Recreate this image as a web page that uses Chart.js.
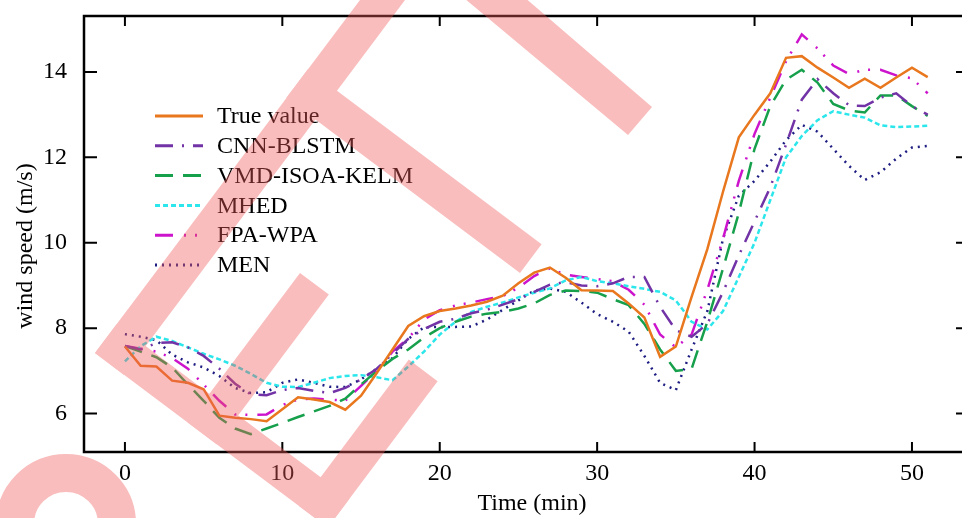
<!DOCTYPE html>
<html>
<head>
<meta charset="utf-8">
<script src="https://cdn.jsdelivr.net/npm/chart.js@4.4.0/dist/chart.umd.min.js"></script>
<style>
  html, body { margin: 0; padding: 0; background: #fff; overflow: hidden; }
  #wrap { position: absolute; left: 0; top: 0; width: 972px; height: 518px; }
</style>
</head>
<body>
<div id="wrap"><canvas id="myChart"></canvas></div>
<script>
// time axis (min)
const minutes = [0, 1, 2, 3, 4, 5, 6, 7, 8, 9, 10, 11, 12, 13, 14, 15, 16, 17, 18, 19, 20, 21, 22, 23, 24, 25,
  26, 27, 28, 29, 30, 31, 32, 33, 34, 35, 36, 37, 38, 39, 40, 41, 42, 43, 44, 45, 46, 47, 48, 49, 50, 51];

const trueValue = [7.57, 7.12, 7.10, 6.77, 6.72, 6.57, 5.95, 5.90, 5.87, 5.82, 6.10, 6.38, 6.33, 6.27, 6.09, 6.42,
  6.95, 7.50, 8.05, 8.28, 8.40, 8.46, 8.53, 8.62, 8.76, 9.05, 9.30, 9.42, 9.18, 8.89, 8.88, 8.87, 8.58, 8.25,
  7.33, 7.57, 8.73, 9.85, 11.20, 12.47, 13.00, 13.50, 14.33, 14.37, 14.10, 13.87, 13.63, 13.84, 13.63, 13.87, 14.10, 13.88];

const cnnBlstm = [7.58, 7.50, 7.65, 7.67, 7.55, 7.35, 7.05, 6.70, 6.45, 6.43, 6.55, 6.60, 6.53, 6.48, 6.60, 6.80,
  7.05, 7.40, 7.75, 7.98, 8.15, 8.22, 8.35, 8.43, 8.55, 8.68, 8.85, 9.02, 9.08, 9.00, 8.98, 9.05, 9.20, 9.20,
  8.50, 7.95, 7.80, 8.10, 8.85, 9.70, 10.50, 11.30, 12.30, 13.35, 13.83, 13.50, 13.22, 13.20, 13.40, 13.50, 13.20, 13.00];

const vmdIsoaKelm = [7.58, 7.45, 7.32, 7.08, 6.68, 6.30, 5.90, 5.65, 5.52, 5.65, 5.78, 5.92, 6.05, 6.18, 6.35, 6.68,
  7.00, 7.28, 7.50, 7.78, 8.00, 8.15, 8.27, 8.34, 8.38, 8.46, 8.58, 8.78, 8.88, 8.87, 8.83, 8.68, 8.54, 8.10,
  7.50, 7.00, 7.05, 8.15, 9.40, 10.70, 12.20, 13.20, 13.82, 14.05, 13.75, 13.25, 13.10, 13.05, 13.45, 13.45, 13.20, 12.97];

const mhed = [7.22, 7.58, 7.80, 7.70, 7.55, 7.40, 7.27, 7.12, 6.93, 6.72, 6.63, 6.62, 6.72, 6.83, 6.88, 6.90,
  6.85, 6.78, 7.10, 7.45, 7.85, 8.15, 8.38, 8.50, 8.60, 8.72, 8.83, 8.93, 9.12, 9.20, 9.10, 9.05, 8.98, 8.92,
  8.85, 8.65, 8.15, 7.97, 8.40, 9.20, 10.00, 11.00, 12.00, 12.50, 12.87, 13.08, 13.00, 12.93, 12.75, 12.71, 12.72, 12.74];

const fpaWpa = [7.58, 7.52, 7.45, 7.30, 7.05, 6.68, 6.30, 5.98, 5.97, 5.98, 6.20, 6.33, 6.35, 6.33, 6.30, 6.65,
  7.00, 7.45, 7.76, 8.20, 8.42, 8.53, 8.60, 8.68, 8.75, 8.95, 9.22, 9.40, 9.25, 9.20, 9.15, 9.10, 8.90, 8.55,
  7.85, 7.55, 7.85, 8.90, 10.10, 11.45, 12.55, 13.40, 14.25, 14.88, 14.55, 14.15, 13.95, 14.05, 14.05, 13.92, 13.85, 13.50];

const men = [7.86, 7.80, 7.72, 7.38, 7.20, 7.08, 6.88, 6.60, 6.48, 6.50, 6.72, 6.80, 6.72, 6.63, 6.62, 6.80,
  7.05, 7.30, 7.75, 8.02, 8.03, 8.03, 8.04, 8.20, 8.43, 8.65, 8.88, 8.93, 8.85, 8.60, 8.33, 8.15, 7.92, 7.35,
  6.72, 6.55, 7.50, 8.40, 10.10, 11.10, 11.45, 11.90, 12.40, 12.76, 12.60, 12.20, 11.80, 11.47, 11.65, 11.97, 12.23, 12.27];

const xTicks = [0, 10, 20, 30, 40, 50];
const yTicks = [6, 8, 10, 12, 14];

Chart.defaults.font.family = "'Liberation Serif', 'Times New Roman', serif";
Chart.defaults.font.size = 24;
Chart.defaults.color = "#000";

function series(label, values, color, dash) {
  return {
    label: label,
    data: minutes.map((t, i) => ({ x: t, y: values[i] })),
    borderColor: color,
    borderWidth: 2.5,
    borderDash: dash,
    pointRadius: 0,
    tension: 0,
    fill: false
  };
}

function noEdgePadding(scale) {
  scale.paddingTop = 0;
  scale.paddingBottom = 0;
  scale.paddingLeft = 0;
  scale.paddingRight = 0;
}

// frame with inward ticks, like the original plot
const frameTicks = {
  id: "frameTicks",
  afterDatasetsDraw(chart) {
    const { ctx, chartArea: a, scales: { x, y } } = chart;
    ctx.save();
    ctx.strokeStyle = "#000";
    ctx.lineWidth = 2.5;
    ctx.strokeRect(a.left, a.top, a.right - a.left, a.bottom - a.top);
    ctx.lineWidth = 2;
    ctx.beginPath();
    xTicks.forEach(v => {
      const px = x.getPixelForValue(v);
      ctx.moveTo(px, a.bottom); ctx.lineTo(px, a.bottom - 10);
      ctx.moveTo(px, a.top); ctx.lineTo(px, a.top + 10);
    });
    yTicks.forEach(v => {
      const py = y.getPixelForValue(v);
      ctx.moveTo(a.left, py); ctx.lineTo(a.left + 13, py);
      ctx.moveTo(a.right, py); ctx.lineTo(a.right - 12, py);
    });
    ctx.stroke();
    ctx.restore();
  }
};

const insideLegend = {
  id: "insideLegend",
  afterDatasetsDraw(chart) {
    const ctx = chart.ctx;
    ctx.save();
    ctx.font = "24px 'Liberation Serif'";
    ctx.textBaseline = "middle";
    chart.data.datasets.forEach((ds, i) => {
      const yy = 116 + i * 29.8;
      ctx.strokeStyle = ds.borderColor;
      ctx.lineWidth = 3;
      ctx.setLineDash(ds.borderDash);
      ctx.beginPath();
      ctx.moveTo(155, yy);
      ctx.lineTo(203, yy);
      ctx.stroke();
      ctx.setLineDash([]);
      ctx.fillStyle = "#000";
      ctx.fillText(ds.label, 217, yy + 1);
    });
    ctx.restore();
  }
};

// pink stamp over the whole picture
const stamp = {
  id: "stamp",
  afterDraw(chart) {
    const { ctx, width, height } = chart;
    const off = document.createElement("canvas");
    off.width = width;
    off.height = height;
    const o = off.getContext("2d");
    o.fillStyle = "rgb(240,90,90)";
    o.strokeStyle = "rgb(240,90,90)";
    const bands = [
      [[95, 353], [375, -20], [420, -20], [124, 375]],
      [[95, 353], [116.6, 324.2], [349.4, 498.8], [327.8, 527.6]],
      [[187.8, 422.6], [300, 273], [328.8, 294.6], [216.6, 444.2]],
      [[299, 506], [408.8, 359.6], [437.6, 381.2], [327.8, 527.6]],
      [[286.4, 97.8], [308, 69], [541.6, 244.2], [520, 273]],
      [[440, -22], [502, -22], [652, 107], [628, 135]]
    ];
    bands.forEach(b => {
      o.beginPath();
      o.moveTo(b[0][0], b[0][1]);
      for (let i = 1; i < b.length; i++) o.lineTo(b[i][0], b[i][1]);
      o.closePath();
      o.fill();
    });
    o.lineWidth = 38;
    o.beginPath();
    o.arc(66, 524, 51, 0, Math.PI * 2);
    o.stroke();
    ctx.save();
    ctx.globalAlpha = 0.4;
    ctx.drawImage(off, 0, 0, width, height);
    ctx.restore();
  }
};

const ctx = document.getElementById("myChart").getContext("2d");
new Chart(ctx, {
  type: "line",
  data: {
    datasets: [
      series("True value", trueValue, "#E8771E", []),
      series("CNN-BLSTM", cnnBlstm, "#7233A6", [18, 9, 2, 9]),
      series("VMD-ISOA-KELM", vmdIsoaKelm, "#17A04C", [18, 10]),
      series("MHED", mhed, "#2BE6EA", [5, 3]),
      series("FPA-WPA", fpaWpa, "#CC14CC", [18, 11, 2, 9, 2, 10]),
      series("MEN", men, "#1E1E82", [2, 5])
    ]
  },
  options: {
    responsive: true,
    maintainAspectRatio: false,
    animation: false,
    layout: { padding: { top: 16, right: 4, left: 0, bottom: 0 } },
    plugins: {
      legend: { display: false },
      tooltip: { enabled: false }
    },
    scales: {
      x: {
        type: "linear",
        min: -2.6,
        max: 53.56,
        grid: { display: false, drawTicks: false },
        border: { display: false },
        afterBuildTicks: scale => { scale.ticks = xTicks.map(v => ({ value: v })); },
        afterFit: scale => { scale.height = 66; noEdgePadding(scale); },
        ticks: { padding: 7, maxRotation: 0 },
        title: { display: true, text: "\u2002Time (min)", padding: { top: 0, bottom: 0 } }
      },
      y: {
        type: "linear",
        min: 5.1,
        max: 15.31,
        grid: { display: false, drawTicks: false },
        border: { display: false },
        afterBuildTicks: scale => { scale.ticks = yTicks.map(v => ({ value: v })); },
        afterFit: scale => { scale.width = 84; noEdgePadding(scale); },
        ticks: { padding: 17 },
        title: { display: true, text: "wind speed (m/s)\u2002\u2002", padding: { top: 11, bottom: 0 } }
      }
    }
  },
  plugins: [frameTicks, insideLegend, stamp]
});
</script>
</body>
</html>
